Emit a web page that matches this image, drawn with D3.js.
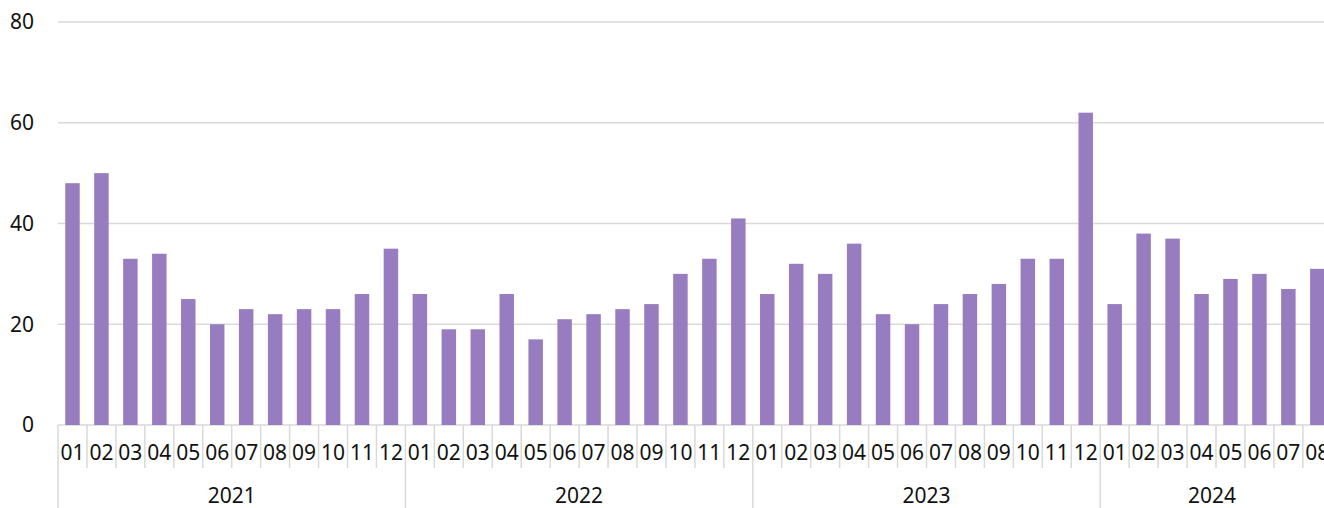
<!DOCTYPE html>
<html>
<head>
<meta charset="utf-8">
<script src="https://cdnjs.cloudflare.com/ajax/libs/d3/7.8.5/d3.min.js"></script>
<style>
  body { margin: 0; background: #fff; }
  text { font-family: "Noto Sans", sans-serif; fill: #111; }
  .grid line { stroke: #d9d9d9; stroke-width: 1.5px; }
  .sep { stroke: #d9d9d9; stroke-width: 1.5px; }
  .bar { fill: #977dc0; }
</style>
</head>
<body>
<svg id="chart" width="1324" height="508"></svg>
<script>
var years = ["2021", "2022", "2023", "2024"];
var months = ["01","02","03","04","05","06","07","08","09","10","11","12"];
var values2021 = [48, 50, 33, 34, 25, 20, 23, 22, 23, 23, 26, 35];
var values2022 = [26, 19, 19, 26, 17, 21, 22, 23, 24, 30, 33, 41];
var values2023 = [26, 32, 30, 36, 22, 20, 24, 26, 28, 33, 33, 62];
var values2024 = [24, 38, 37, 26, 29, 30, 27, 31];
var yTicks = [0, 20, 40, 60, 80];

var series = [values2021, values2022, values2023, values2024];
var data = [];
series.forEach(function(vals, yi) {
  vals.forEach(function(v, mi) {
    data.push({key: years[yi] + "-" + months[mi], year: years[yi], month: months[mi], value: v});
  });
});

var svg = d3.select("#chart"),
    W = 1324,
    plotLeft = 58,
    band = 28.95,
    plotTop = 22,
    plotBottom = 425;

var x = d3.scaleBand()
    .domain(data.map(function(d) { return d.key; }))
    .range([plotLeft, plotLeft + band * data.length])
    .paddingInner(0.5)
    .paddingOuter(0.25);

var y = d3.scaleLinear().domain([0, 80]).range([plotBottom, plotTop]);

// gridlines
svg.append("g").attr("class", "grid")
  .selectAll("line").data(yTicks).enter().append("line")
  .attr("x1", plotLeft).attr("x2", W)
  .attr("y1", function(d) { return y(d); })
  .attr("y2", function(d) { return y(d); });

svg.append("g").selectAll("text").data(yTicks).enter().append("text")
  .attr("x", 34)
  .attr("y", function(d) { return y(d); })
  .attr("dy", "0.35em")
  .attr("text-anchor", "end")
  .style("font-size", "21px")
  .text(function(d) { return d; });

// bars
svg.append("g").selectAll("rect").data(data).enter().append("rect")
  .attr("class", "bar")
  .attr("x", function(d) { return x(d.key); })
  .attr("width", x.bandwidth())
  .attr("y", function(d) { return y(d.value); })
  .attr("height", function(d) { return y(0) - y(d.value); });

// month separators and labels
var step = x.step();
function bandLeft(d) { return x(d.key) - x.bandwidth() * 0.5; }

svg.append("g").selectAll("line").data(data).enter().append("line")
  .attr("class", "sep")
  .attr("x1", bandLeft).attr("x2", bandLeft)
  .attr("y1", plotBottom)
  .attr("y2", function(d) { return d.month === "01" ? 508 : 468; });

svg.append("g").selectAll("text").data(data).enter().append("text")
  .attr("x", function(d) { return x(d.key) + x.bandwidth() / 2; })
  .attr("y", 453)
  .attr("dy", "0.35em")
  .attr("text-anchor", "middle")
  .style("font-size", "21px")
  .text(function(d) { return d.month; });

// year labels, centred on the visible part of each group
svg.append("g").selectAll("text").data(years).enter().append("text")
  .attr("x", function(yr) {
    var ds = data.filter(function(d) { return d.year === yr; });
    var a = bandLeft(ds[0]);
    var b = Math.min(W, a + step * 12);
    return (a + b) / 2;
  })
  .attr("y", 496)
  .attr("dy", "0.35em")
  .attr("text-anchor", "middle")
  .style("font-size", "21px")
  .text(function(d) { return d; });
</script>
</body>
</html>
